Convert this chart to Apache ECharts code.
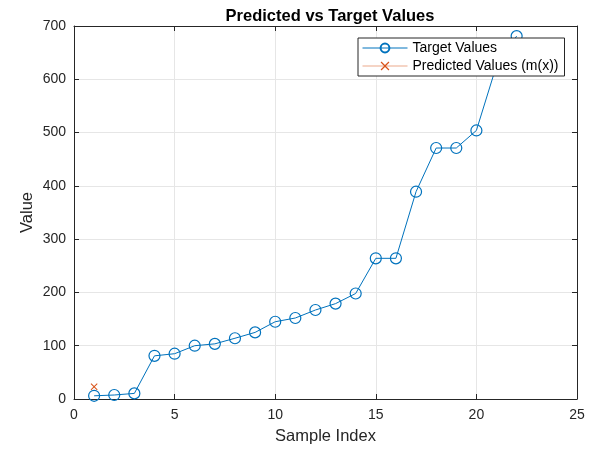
<!DOCTYPE html>
<html>
<head>
<meta charset="utf-8">
<script src="https://cdn.jsdelivr.net/npm/echarts@6/dist/echarts.min.js"></script>
<style>
  html, body { margin: 0; padding: 0; background: #fff; }
  #chart { width: 601px; height: 451px; }
</style>
</head>
<body>
<div id="chart"></div>
<script>
// sample indices and values
const sampleIndex = [1, 2, 3, 4, 5, 6, 7, 8, 9, 10, 11, 12, 13, 14, 15, 16, 17, 18, 19, 20, 21, 22];
const targetValues = [6, 7.5, 10.5, 81, 85, 100, 103.5, 114, 125, 145, 152, 167, 179, 198, 264, 264, 389, 471, 471, 504, 626, 681];
const predictedIndex = [1];
const predictedValues = [23];
const xTicks = { min: 0, max: 25, step: 5 };
const yTicks = { min: 0, max: 700, step: 100 };

const FONT = "'Liberation Sans', Arial, sans-serif";
const AXC = "#262626";
const BLUE = "#0072BD";
const ORANGE = "#D95319";
const CROSS = "path://M0,1L1,0L5,4L9,0L10,1L6,5L10,9L9,10L5,6L1,10L0,9L4,5Z";

const chart = echarts.init(document.getElementById("chart"), null, { renderer: "canvas" });

const tickLbl = { color: AXC, fontSize: 14, fontFamily: FONT };
const inTick = { show: true, inside: true, length: 5, lineStyle: { color: AXC, width: 1 } };
const axLine = { show: true, onZero: false, lineStyle: { color: AXC, width: 1 } };
const grid = { show: true, lineStyle: { color: "#e6e6e6", width: 1 } };

chart.setOption({
  animation: false,
  backgroundColor: "#fff",
  title: {
    text: "Predicted vs Target Values",
    left: 325, top: 3, textAlign: "center",
    textStyle: { color: "#000", fontSize: 16.5, fontWeight: "bold", fontFamily: FONT }
  },
  grid: { left: 74, right: 24, top: 26, bottom: 52 },
  legend: {
    orient: "vertical", left: 358, top: 38, itemGap: 4,
    itemWidth: 45, itemHeight: 11,
    padding: [3, 6, 3, 4],
    backgroundColor: "#fff", borderColor: AXC, borderWidth: 1,
    lineStyle: { width: 1 },
    textStyle: { color: "#000", fontSize: 14, fontFamily: FONT },
    data: ["Target Values", "Predicted Values (m(x))"]
  },
  xAxis: [{
    type: "value", min: xTicks.min, max: xTicks.max, interval: xTicks.step,
    name: "Sample Index", nameLocation: "middle", nameGap: 29,
    nameTextStyle: { color: AXC, fontSize: 16.5, fontFamily: FONT },
    axisLabel: { ...tickLbl, margin: 9 }, axisTick: inTick, axisLine: axLine, splitLine: grid
  }, {
    type: "value", position: "top", min: xTicks.min, max: xTicks.max, interval: xTicks.step,
    axisLabel: { show: false }, axisTick: inTick, axisLine: axLine, splitLine: { show: false }
  }],
  yAxis: [{
    type: "value", min: yTicks.min, max: yTicks.max, interval: yTicks.step,
    name: "Value", nameLocation: "middle", nameGap: 38, nameMoveOverlap: false,
    nameTextStyle: { color: AXC, fontSize: 16.5, fontFamily: FONT },
    axisLabel: { ...tickLbl, margin: 8 }, axisTick: inTick, axisLine: axLine, splitLine: grid
  }, {
    type: "value", position: "right", min: yTicks.min, max: yTicks.max, interval: yTicks.step,
    axisLabel: { show: false }, axisTick: inTick, axisLine: axLine, splitLine: { show: false }
  }],
  series: [{
    name: "Target Values",
    type: "line",
    symbol: "circle", symbolSize: 11,
    lineStyle: { color: BLUE, width: 1 },
    itemStyle: { color: "rgba(0,0,0,0)", borderColor: BLUE, borderWidth: 1.2 },
    data: sampleIndex.map((x, i) => [x, targetValues[i]]),
    z: 2
  }, {
    name: "Predicted Values (m(x))",
    type: "line",
    symbol: CROSS, symbolSize: 7,
    lineStyle: { color: ORANGE, width: 1, opacity: 0.5 },
    itemStyle: { color: ORANGE },
    data: predictedIndex.map((x, i) => [x, predictedValues[i]]),
    z: 3
  }]
});
</script>
</body>
</html>
